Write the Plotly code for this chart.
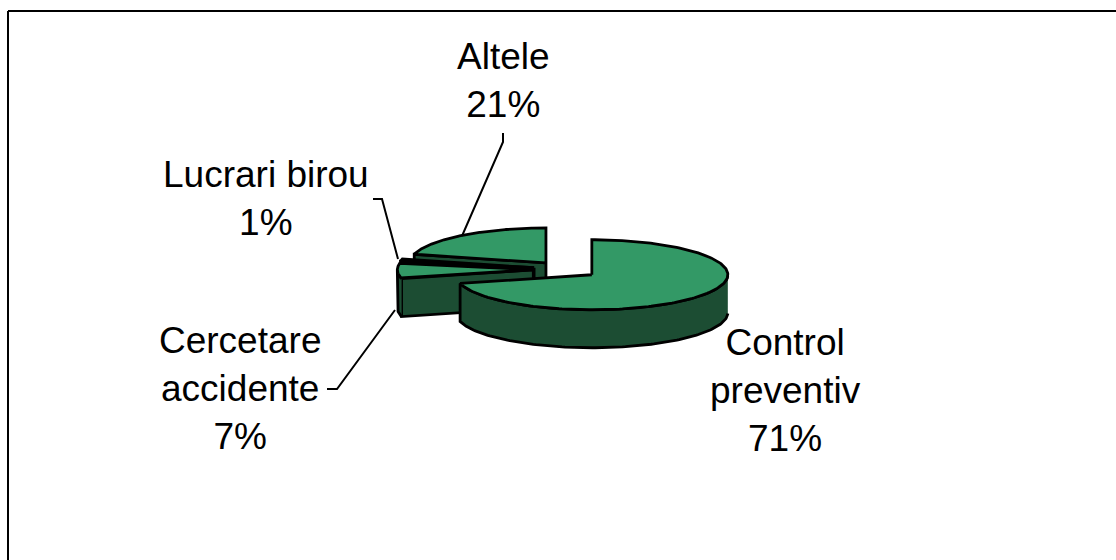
import numpy as np
import plotly.graph_objects as go

categories = ["Control<br>preventiv", "Cercetare<br>accidente", "Lucrari birou", "Altele"]
values = [71, 7, 1, 21]
top_colors = ["#339966", "#339966", "#000000", "#339966"]
side_colors = ["#1c4d33", "#1c4d33", "#000000", "#1c4d33"]

CX, CY = 566, 269.6
RX, RY = 136, 35
DEPTH = 38
EXPLODE = 32.7
TILT = RY / RX
W, H = 1116, 560

pts = lambda c, a: (c[0] + RX * np.sin(a), c[1] - RY * np.cos(a))
total = sum(values)
edges = np.cumsum([0] + values) / total * 2 * np.pi

fig = go.Figure()


def poly(x, y, fill):
    fig.add_trace(go.Scatter(x=list(x), y=list(y), mode="lines", fill="toself", fillcolor=fill,
                             line=dict(color="black", width=2.8), hoverinfo="skip", showlegend=False))


slices = []
for i in range(len(values)):
    a0, a1 = edges[i], edges[i + 1]
    mid = (a0 + a1) / 2
    c = (CX + EXPLODE * np.sin(mid), CY - EXPLODE * TILT * np.cos(mid))
    slices.append((i, a0, a1, c))

EPS = 1e-6
for i, a0, a1, c in sorted(slices, key=lambda s: s[3][1]):
    arc = np.linspace(a0, a1, 200)
    ax, ay = pts(c, arc)
    # cut faces that turn toward the viewer
    if np.sin(a0) < -EPS:
        ex, ey = pts(c, a0)
        poly([c[0], ex, ex, c[0], c[0]], [c[1], ey, ey + DEPTH, c[1] + DEPTH, c[1]], side_colors[i])
    if np.sin(a1) > EPS:
        ex, ey = pts(c, a1)
        poly([c[0], ex, ex, c[0], c[0]], [c[1], ey, ey + DEPTH, c[1] + DEPTH, c[1]], side_colors[i])
    # rim on the front half of the ellipse
    front = arc[(arc >= np.pi / 2) & (arc <= 3 * np.pi / 2)]
    if len(front) > 1:
        fx, fy = pts(c, front)
        poly(np.r_[fx, fx[::-1]], np.r_[fy, fy[::-1] + DEPTH], side_colors[i])
    poly(np.r_[c[0], ax, c[0]], np.r_[c[1], ay, c[1]], top_colors[i])

# leader lines
for lx, ly in [([503, 503, 462], [133, 142, 236]), ([373, 382, 398], [199, 199, 259]), ([327, 337, 395], [389, 389, 310])]:
    fig.add_trace(go.Scatter(x=lx, y=ly, mode="lines", line=dict(color="black", width=2),
                             hoverinfo="skip", showlegend=False))

label_pos = [(785, 390), (240, 388), (266, 198), (503, 80)]
for name, v, (x, y) in zip(categories, values, label_pos):
    fig.add_annotation(x=x, y=y, text=f"{name}<br>{v}%", showarrow=False, xanchor="center", yanchor="middle",
                       font=dict(family="Liberation Sans", size=37, color="black"))

fig.add_shape(type="line", x0=8, x1=8, y0=11, y1=560, line=dict(color="black", width=2))
fig.add_shape(type="line", x0=8, x1=1116, y0=11, y1=11, line=dict(color="black", width=2))

fig.update_layout(width=W, height=H, margin=dict(l=0, r=0, t=0, b=0), paper_bgcolor="white", plot_bgcolor="white",
                  xaxis=dict(range=[0, W], visible=False, fixedrange=True),
                  yaxis=dict(range=[H, 0], visible=False, fixedrange=True), showlegend=False)
fig.write_html("out.html", config=dict(displayModeBar=False),
               post_script="document.body.style.margin='0';document.body.style.overflow='hidden';")
